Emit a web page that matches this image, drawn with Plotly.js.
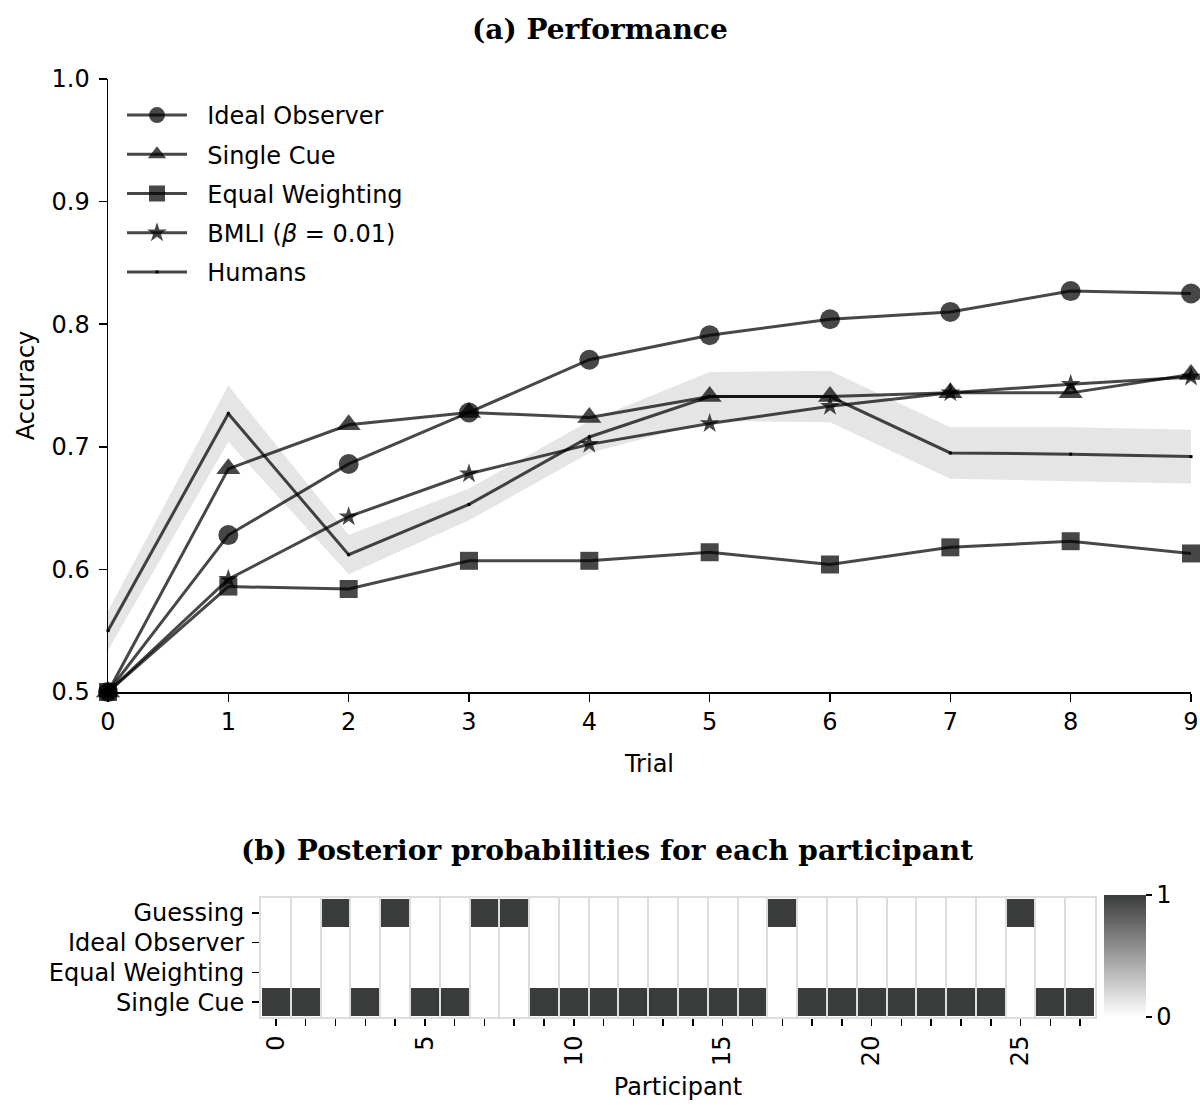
<!DOCTYPE html>
<html>
<head>
<meta charset="utf-8">
<script src="https://cdn.plot.ly/plotly-3.0.1.min.js"></script>
<style>html,body{margin:0;padding:0;background:#fff;}#chart{width:1200px;height:1105px;}</style>
</head>
<body>
<div id="chart"></div>
<script>
// ---- Data: (a) Performance ----
const trials = [0,1,2,3,4,5,6,7,8,9];
const idealObserver   = [0.500,0.628,0.686,0.728,0.771,0.791,0.804,0.810,0.827,0.825];
const singleCue       = [0.500,0.682,0.718,0.728,0.724,0.741,0.741,0.744,0.744,0.759];
const equalWeighting  = [0.500,0.586,0.584,0.607,0.607,0.614,0.604,0.618,0.623,0.613];
const bmli            = [0.500,0.592,0.643,0.678,0.702,0.719,0.733,0.744,0.751,0.757];
const humans          = [0.550,0.727,0.612,0.653,0.708,0.741,0.741,0.695,0.694,0.692];
const humansLower     = [0.534,0.704,0.596,0.640,0.695,0.721,0.720,0.674,0.672,0.670];
const humansUpper     = [0.566,0.750,0.628,0.666,0.721,0.761,0.762,0.716,0.716,0.714];
const seriesNames = ["Ideal Observer","Single Cue","Equal Weighting","BMLI (<i>\u03b2</i> = 0.01)","Humans"];
const yTicks = [0.5,0.6,0.7,0.8,0.9,1.0];
const yTickText = ["0.5","0.6","0.7","0.8","0.9","1.0"];

// ---- Data: (b) Posterior probabilities ----
const participants = [...Array(28).keys()];
const participantLabels = participants.map(p => (p % 5 === 0 ? String(p) : ""));
const models = ["Guessing","Ideal Observer","Equal Weighting","Single Cue"];
const postGuessing      = [0,0,1,0,1,0,0,1,1,0,0,0,0,0,0,0,0,1,0,0,0,0,0,0,0,1,0,0];
const postIdeal         = [0,0,0,0,0,0,0,0,0,0,0,0,0,0,0,0,0,0,0,0,0,0,0,0,0,0,0,0];
const postEqual         = [0,0,0,0,0,0,0,0,0,0,0,0,0,0,0,0,0,0,0,0,0,0,0,0,0,0,0,0];
const postSingle        = [1,1,0,1,0,1,1,0,0,1,1,1,1,1,1,1,1,0,1,1,1,1,1,1,1,0,1,1];

const W = 1200, H = 1105;
const px = x => x / W;
const py = y => 1 - y / H;
const lineCol = 'rgba(0,0,0,0.72)';
const FONT = 'DejaVu Sans, sans-serif';
const TFONT = 'DejaVu Serif, serif';
const pad = '\u00a0\u00a0';

const traces = [
  {x: trials, y: humansLower, mode: 'lines', line: {width: 0, color: 'rgba(0,0,0,0)'}, showlegend: false, hoverinfo: 'skip', xaxis: 'x', yaxis: 'y'},
  {x: trials, y: humansUpper, mode: 'lines', line: {width: 0, color: 'rgba(0,0,0,0)'}, fill: 'tonexty', fillcolor: '#e5e5e5', showlegend: false, hoverinfo: 'skip', xaxis: 'x', yaxis: 'y'},
  {x: trials, y: idealObserver, name: pad + seriesNames[0], legendgroup: 'a', mode: 'lines+markers', line: {color: lineCol, width: 3}, marker: {symbol: 'circle', size: 20, color: lineCol}, xaxis: 'x', yaxis: 'y', cliponaxis: false},
  {x: trials, y: singleCue, name: pad + seriesNames[1], legendgroup: 'b', mode: 'lines+markers', line: {color: lineCol, width: 3}, marker: {symbol: 'triangle-up', size: 21, color: lineCol}, xaxis: 'x', yaxis: 'y', cliponaxis: false},
  {x: trials, y: equalWeighting, name: pad + seriesNames[2], legendgroup: 'c', mode: 'lines+markers', line: {color: lineCol, width: 3}, marker: {symbol: 'square', size: 18, color: lineCol}, xaxis: 'x', yaxis: 'y', cliponaxis: false},
  {x: trials, y: bmli, name: pad + seriesNames[3], legendgroup: 'd', mode: 'lines+markers', line: {color: lineCol, width: 3}, marker: {symbol: 'star', size: 15, color: lineCol}, xaxis: 'x', yaxis: 'y', cliponaxis: false},
  {x: trials, y: humans, name: pad + seriesNames[4], legendgroup: 'e', mode: 'lines+markers', line: {color: lineCol, width: 3}, marker: {symbol: 'square', size: 3, color: '#000'}, xaxis: 'x', yaxis: 'y', cliponaxis: false},
  {
    type: 'heatmap', x: participants, y: models,
    z: [postGuessing, postIdeal, postEqual, postSingle],
    zmin: 0, zmax: 1,
    colorscale: [[0, '#ffffff'], [1, '#3a3c3b']],
    xgap: 2, ygap: 2, showlegend: false,
    xaxis: 'x2', yaxis: 'y2',
    colorbar: {
      x: px(1104), xanchor: 'left', y: py(956), yanchor: 'middle',
      len: (1017 - 895) / H, lenmode: 'fraction', thickness: 42, thicknessmode: 'pixels',
      outlinewidth: 0, tickvals: [0, 1], ticktext: ['0', '1'], ticks: 'outside', ticklen: 6, tickwidth: 1.5, tickcolor: '#000',
      tickfont: {family: FONT, size: 24, color: '#000'}, xpad: 0, ypad: 0
    }
  }
];

const layout = {
  width: W, height: H,
  margin: {l: 0, r: 0, t: 0, b: 0},
  paper_bgcolor: '#fff', plot_bgcolor: '#fff',
  font: {family: FONT, size: 24, color: '#000'},
  showlegend: true,
  legend: {x: px(122), y: py(93), xanchor: 'left', yanchor: 'top', bgcolor: 'rgba(0,0,0,0)', font: {family: FONT, size: 24, color: '#000'}, tracegroupgap: 5, itemwidth: 60},
  xaxis: {
    domain: [px(108), px(1191)], range: [0, 9], anchor: 'y',
    tickvals: trials, ticktext: trials.map(String), ticks: 'outside', ticklen: 8, tickwidth: 1.5, tickcolor: '#000',
    showline: true, linecolor: '#000', linewidth: 1.5, showgrid: false, zeroline: false,
    tickfont: {family: FONT, size: 24}, automargin: false,
    title: {text: 'Trial', font: {family: FONT, size: 24}, standoff: 20}
  },
  yaxis: {
    domain: [py(692), py(79)], range: [0.5, 1.0], anchor: 'x',
    tickvals: yTicks, ticktext: yTickText, ticks: 'outside', ticklen: 8, tickwidth: 1.5, tickcolor: '#000',
    ticklabelstandoff: 4,
    showline: true, linecolor: '#000', linewidth: 1.5, showgrid: false, zeroline: false,
    tickfont: {family: FONT, size: 24}, automargin: false,
    title: {text: 'Accuracy', font: {family: FONT, size: 24}, standoff: 10}
  },
  xaxis2: {
    domain: [px(261), px(1095)], range: [-0.5, 27.5], anchor: 'y2',
    tickvals: participants, ticktext: participantLabels, tickangle: -90,
    ticks: 'outside', ticklen: 7, tickwidth: 1.5, tickcolor: '#000',
    showline: true, linecolor: '#dcdedc', linewidth: 2, mirror: true,
    showgrid: false, zeroline: false,
    minor: {tick0: 0.5, dtick: 1, showgrid: true, gridcolor: '#dcdedc', gridwidth: 2, ticks: ''},
    tickfont: {family: FONT, size: 24}, automargin: false,
    title: {text: 'Participant', font: {family: FONT, size: 24}, standoff: 13}
  },
  yaxis2: {
    domain: [py(1017), py(898)], anchor: 'x2', autorange: 'reversed',
    ticks: 'outside', ticklen: 7, tickwidth: 1.5, tickcolor: '#000',
    ticklabelstandoff: 3,
    showline: true, linecolor: '#dcdedc', linewidth: 2, mirror: true,
    showgrid: false, zeroline: false,
    minor: {tick0: 0.5, dtick: 1, showgrid: true, gridcolor: '#dcdedc', gridwidth: 2, ticks: ''},
    tickfont: {family: FONT, size: 24}, automargin: false
  },
  annotations: [
    {text: '<b>(a) Performance</b>', xref: 'paper', yref: 'paper', x: px(600), y: py(29), xanchor: 'center', yanchor: 'middle', showarrow: false, font: {family: TFONT, size: 28, color: '#000'}},
    {text: '<b>(b) Posterior probabilities for each participant</b>', xref: 'paper', yref: 'paper', x: px(607), y: py(850), xanchor: 'center', yanchor: 'middle', showarrow: false, font: {family: TFONT, size: 28, color: '#000'}}
  ]
};

Plotly.newPlot('chart', traces, layout, {displayModeBar: false, staticPlot: true});
</script>
</body>
</html>
